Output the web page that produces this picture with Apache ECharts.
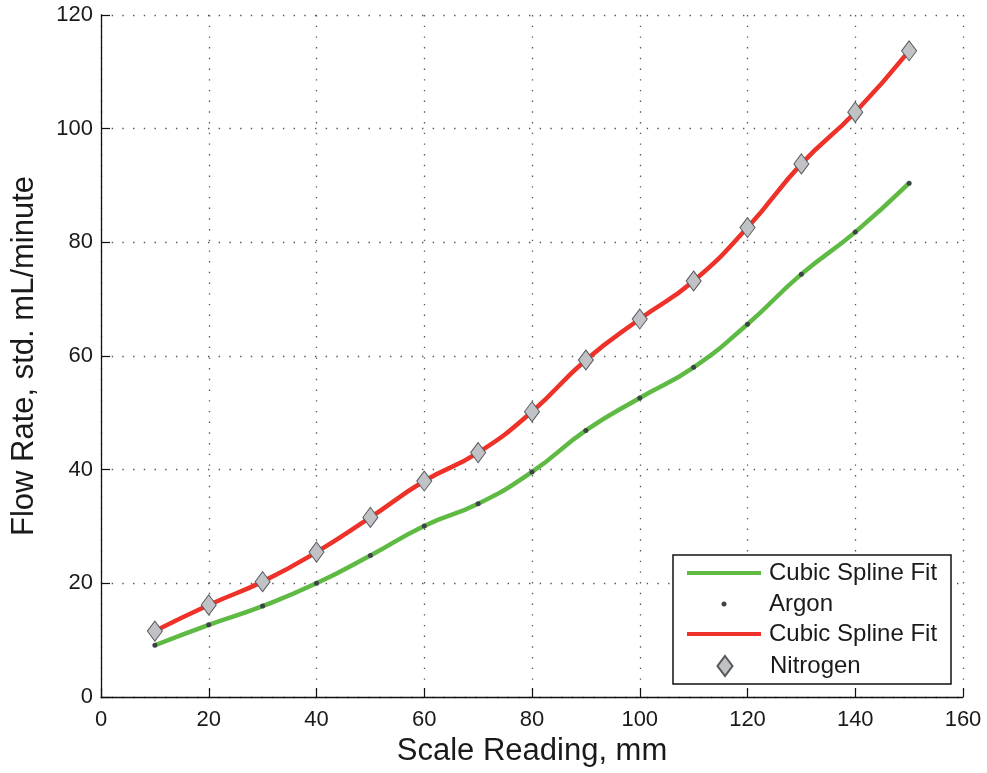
<!DOCTYPE html>
<html>
<head>
<meta charset="utf-8">
<script src="https://cdn.jsdelivr.net/npm/echarts@6/dist/echarts.min.js"></script>
<style>
  html, body { margin: 0; padding: 0; background: #fff; }
  #chart { width: 987px; height: 773px; }
</style>
</head>
<body>
<div id="chart"></div>
<script>
// Scale readings (mm) at which both gases were calibrated
const scaleReading = [10, 20, 30, 40, 50, 60, 70, 80, 90, 100, 110, 120, 130, 140, 150];
// Measured flow rates, std. mL/minute
const argonFlow = [9.1, 12.7, 16.0, 20.0, 24.9, 30.1, 34.0, 39.6, 46.9, 52.6, 58.0, 65.6, 74.4, 81.8, 90.4];
const nitrogenFlow = [11.6, 16.2, 20.3, 25.5, 31.6, 38.0, 43.0, 50.2, 59.3, 66.5, 73.2, 82.6, 93.8, 102.9, 113.7];
// Axis ticks
const xTicks = [0, 20, 40, 60, 80, 100, 120, 140, 160];
const yTicks = [0, 20, 40, 60, 80, 100, 120];

const pairs = (xs, ys) => xs.map((x, i) => [x, ys[i]]);

const FONT = '"Liberation Sans", Arial, Helvetica, sans-serif';
const INK = '#1a1a1a';
const GREEN = '#5fba44';
const RED = '#ee3229';
const gridDots = { color: '#555', width: 1.3, type: [1.4, 9.3] };

const chart = echarts.init(document.getElementById('chart'), null, { renderer: 'canvas' });

const legendText = { fontFamily: FONT, fontSize: 24, color: INK, lineHeight: 28 };
const legendBase = { orient: 'vertical', padding: 0, itemGap: 0, selectedMode: false, textStyle: legendText, z: 10 };
// line-sample entries get a small left pad so all labels share one column
const lineEntryText = Object.assign({}, legendText, { padding: [0, 0, 0, 3] });

chart.setOption({
  animation: false,
  backgroundColor: '#fff',
  grid: { left: 101, right: 24, top: 15, bottom: 76, containLabel: false },
  xAxis: {
    type: 'value', min: xTicks[0], max: xTicks[xTicks.length - 1], interval: 20,
    name: 'Scale Reading, mm', nameLocation: 'middle', nameGap: 37,
    nameTextStyle: { fontFamily: FONT, fontSize: 31, color: INK },
    axisLine: { lineStyle: { color: '#111', width: 1.3 } },
    axisTick: { inside: true, length: 9, lineStyle: { color: '#111', width: 1.2 } },
    axisLabel: { fontFamily: FONT, fontSize: 22, color: INK, margin: 12 },
    splitLine: { show: true, lineStyle: gridDots }
  },
  yAxis: {
    type: 'value', min: yTicks[0], max: yTicks[yTicks.length - 1], interval: 20,
    name: 'Flow Rate, std. mL/minute', nameLocation: 'middle', nameGap: 61,
    nameTextStyle: { fontFamily: FONT, fontSize: 31, color: INK },
    axisLine: { show: true, lineStyle: { color: '#111', width: 1.3 } },
    axisTick: { show: true, inside: true, length: 9, lineStyle: { color: '#111', width: 1.2 } },
    axisLabel: { fontFamily: FONT, fontSize: 22, color: INK, margin: 8 },
    splitLine: { show: true, lineStyle: gridDots }
  },
  graphic: [{
    type: 'rect', z: 5,
    shape: { x: 673, y: 555, width: 278, height: 129 },
    style: { fill: '#fff', stroke: '#111', lineWidth: 1.5 }
  }],
  legend: [
    Object.assign({}, legendBase, { left: 687, top: 559, itemWidth: 74, itemHeight: 4,
      data: [{ name: 'Cubic Spline Fit', icon: 'rect', textStyle: lineEntryText }] }),
    Object.assign({}, legendBase, { left: 721.5, top: 590, itemWidth: 80, itemHeight: 5,
      data: [{ name: 'Argon', icon: 'circle' }] }),
    Object.assign({}, legendBase, { left: 687, top: 620, itemWidth: 74, itemHeight: 4,
      data: [{ name: 'Cubic Spline Fit ', icon: 'rect', textStyle: lineEntryText }] }),
    Object.assign({}, legendBase, { left: 716.5, top: 652, itemWidth: 80, itemHeight: 20, symbolKeepAspect: true,
      data: [{ name: 'Nitrogen', icon: 'path://M0,-10 L7.5,0 L0,10 L-7.5,0 Z' }] })
  ],
  series: [
    {
      name: 'Cubic Spline Fit', type: 'line', data: pairs(scaleReading, argonFlow),
      smooth: 0.5, showSymbol: false, symbol: 'none',
      lineStyle: { color: GREEN, width: 4.5 }, itemStyle: { color: GREEN }, z: 2
    },
    {
      name: 'Argon', type: 'scatter', data: pairs(scaleReading, argonFlow),
      symbol: 'circle', symbolSize: 5,
      itemStyle: { color: '#3f4347', opacity: 1 }, z: 3
    },
    {
      name: 'Cubic Spline Fit ', type: 'line', data: pairs(scaleReading, nitrogenFlow),
      smooth: 0.5, showSymbol: false, symbol: 'none',
      lineStyle: { color: RED, width: 4.5 }, itemStyle: { color: RED }, z: 2
    },
    {
      name: 'Nitrogen', type: 'scatter', data: pairs(scaleReading, nitrogenFlow),
      symbol: 'diamond', symbolSize: [15, 20],
      itemStyle: { color: '#c1c2c6', borderColor: '#55575b', borderWidth: 1, opacity: 1 }, z: 4
    }
  ]
});
</script>
</body>
</html>
